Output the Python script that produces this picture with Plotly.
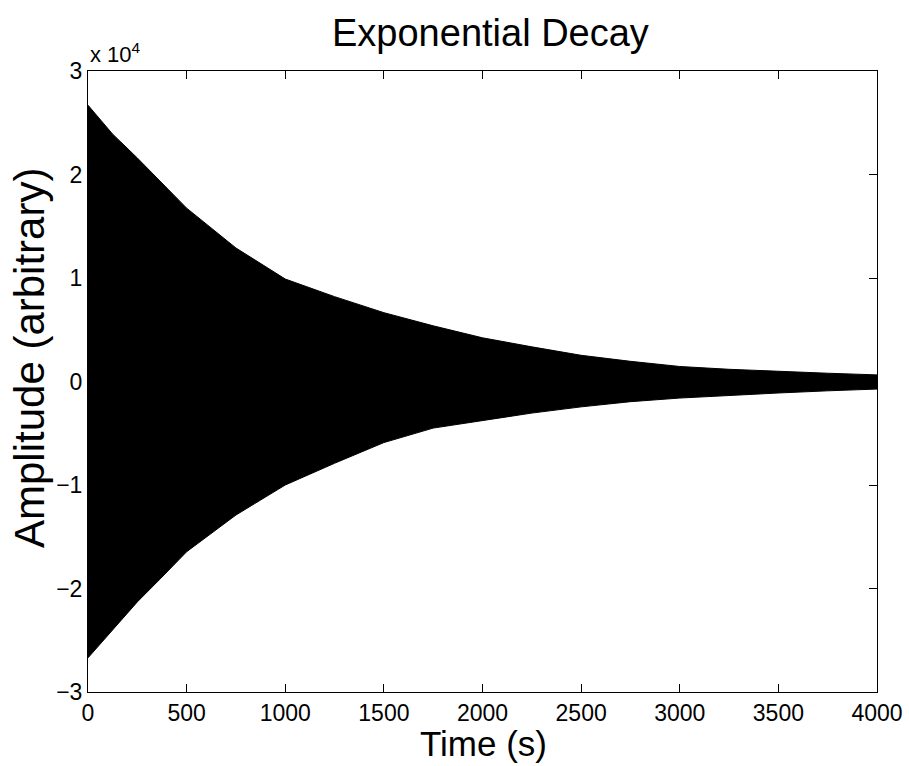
import plotly.graph_objects as go

# Envelope of the dense oscillation
time_s = [0, 125, 250, 375, 500, 750, 1000, 1250, 1500, 1750, 2000,
          2250, 2500, 2750, 3000, 3250, 3500, 3750, 4000]
upper_env = [26700, 23900, 21600, 19200, 16750, 12900, 9900, 8200, 6650, 5380, 4220,
             3350, 2530, 1950, 1450, 1180, 960, 800, 640]
lower_env = [-26700, -24000, -21300, -18900, -16450, -12900, -10000, -7900, -5900, -4500, -3800,
             -3050, -2450, -1950, -1600, -1330, -1110, -900, -730]

x_ticks = [0, 500, 1000, 1500, 2000, 2500, 3000, 3500, 4000]
y_tickvals = [-30000, -20000, -10000, 0, 10000, 20000, 30000]
y_ticktext = ["\u22123", "\u22122", "\u22121", "0", "1", "2", "3"]

FONT = "Liberation Sans, Arial, Helvetica, sans-serif"
W, H = 909, 766
L, R, T, B = 88, 32, 71, 74

fig = go.Figure()
fig.add_trace(go.Scatter(x=time_s, y=lower_env, mode="lines",
                         line=dict(color="black", width=1), showlegend=False))
fig.add_trace(go.Scatter(x=time_s, y=upper_env, mode="lines", fill="tonexty",
                         fillcolor="black", line=dict(color="black", width=1),
                         showlegend=False))

axis_common = dict(showline=True, linecolor="black", linewidth=1, mirror="ticks",
                   ticks="inside", ticklen=8, tickcolor="black", tickwidth=1,
                   showgrid=False, zeroline=False, automargin=False,
                   tickfont=dict(family=FONT, size=23, color="black"))

def px_x(p):
    return (p - L) / (W - L - R)

def px_y(p):
    return (H - B - p) / (H - T - B)

fig.update_layout(
    width=W, height=H,
    margin=dict(l=L, r=R, t=T, b=B, autoexpand=False),
    paper_bgcolor="white", plot_bgcolor="white",
    xaxis=dict(range=[0, 4000], tickvals=x_ticks, ticklabelstandoff=0, **axis_common),
    yaxis=dict(range=[-30000, 30000], tickvals=y_tickvals, ticktext=y_ticktext,
               **axis_common),
    annotations=[
        dict(text="Exponential Decay", xref="paper", yref="paper",
             x=px_x(491), y=px_y(33), xanchor="center", yanchor="middle",
             showarrow=False, font=dict(family=FONT, size=38, color="black")),
        dict(text="Time (s)", xref="paper", yref="paper",
             x=px_x(483), y=px_y(743), xanchor="center", yanchor="middle",
             showarrow=False, font=dict(family=FONT, size=35, color="black")),
        dict(text="Amplitude (arbitrary)", xref="paper", yref="paper",
             x=px_x(29), y=px_y(358), xanchor="center", yanchor="middle",
             textangle=-90, showarrow=False,
             font=dict(family=FONT, size=42, color="black")),
        dict(text="x 10<sup>4</sup>", xref="paper", yref="paper",
             x=0, y=1, xanchor="left", yanchor="bottom", yshift=2,
             showarrow=False, font=dict(family=FONT, size=22, color="black")),
    ],
)

fig.write_html(
    "out.html",
    config={"displayModeBar": False},
    post_script="document.body.style.margin='0px';document.body.style.overflow='hidden';",
)
